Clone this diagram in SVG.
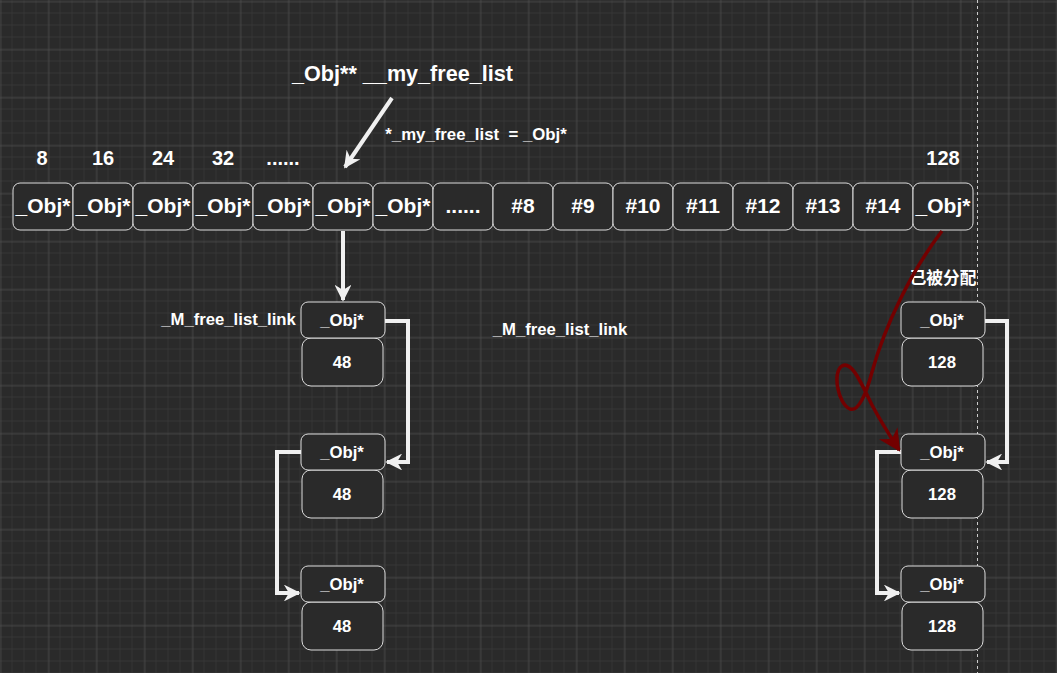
<svg xmlns="http://www.w3.org/2000/svg" width="1057" height="673" viewBox="0 0 1057 673">
<style>
text{font-family:"Liberation Sans",Arial,"Noto Sans CJK SC",sans-serif;font-weight:bold;fill:#ffffff;text-anchor:middle}
.cell{fill:#2a2a2a;stroke:#dddddd;stroke-width:1}
.ct{font-size:21px}
.nt{font-size:16.7px}
.lbl{font-size:20px}
.conn{fill:none;stroke:#f0f0f0;stroke-width:4}
</style>
<defs>
<pattern id="minor" width="12" height="12" patternUnits="userSpaceOnUse" patternTransform="translate(0.5,1.5)">
<path d="M12,0 V12 M0,12 H12" fill="none" stroke="#393939" stroke-width="1.3"/>
</pattern>
<pattern id="major" width="48" height="48" patternUnits="userSpaceOnUse" patternTransform="translate(0.5,1.5)">
<path d="M0,0 V48 M0,0 H48" fill="none" stroke="#555555" stroke-width="1"/>
</pattern>
<marker id="aw" viewBox="0 0 10 10" refX="9" refY="5" markerWidth="4.2" markerHeight="4.2" orient="auto" markerUnits="strokeWidth">
<path d="M0,0 L10,5 L0,10 L3,5 z" fill="#f0f0f0"/>
</marker>
<marker id="ar" viewBox="0 0 10 10" refX="9" refY="5" markerWidth="6.3" markerHeight="6.3" orient="auto" markerUnits="strokeWidth">
<path d="M0,0 L10,5 L0,10 L3,5 z" fill="#730000"/>
</marker>
</defs>
<rect width="1057" height="673" fill="#2a2a2a"/>
<rect width="1057" height="673" fill="url(#minor)"/>
<rect width="1057" height="673" fill="url(#major)"/>
<line x1="977.5" y1="0" x2="977.5" y2="673" stroke="#cccccc" stroke-width="1" stroke-dasharray="3,3"/>

<g id="title"><text x="402.5" y="81" style="font-size:21.6px">_Obj** __my_free_list</text></g>
<g id="deref-label"><text x="476" y="140" style="font-size:16.8px" xml:space="preserve">*_my_free_list  = _Obj*</text></g>

<g id="size-labels" class="lbl">
<text x="42" y="165">8</text>
<text x="103" y="165">16</text>
<text x="163" y="165">24</text>
<text x="223" y="165">32</text>
<text x="283" y="165">......</text>
<text x="943" y="165">128</text>
</g>

<g id="array">
<g id="c0"><rect class="cell" x="13" y="183" width="60" height="47" rx="7"/><text class="ct" x="43" y="213">_Obj*</text></g>
<g id="c1"><rect class="cell" x="73" y="183" width="60" height="47" rx="7"/><text class="ct" x="103" y="213">_Obj*</text></g>
<g id="c2"><rect class="cell" x="133" y="183" width="60" height="47" rx="7"/><text class="ct" x="163" y="213">_Obj*</text></g>
<g id="c3"><rect class="cell" x="193" y="183" width="60" height="47" rx="7"/><text class="ct" x="223" y="213">_Obj*</text></g>
<g id="c4"><rect class="cell" x="253" y="183" width="60" height="47" rx="7"/><text class="ct" x="283" y="213">_Obj*</text></g>
<g id="c5"><rect class="cell" x="313" y="183" width="60" height="47" rx="7"/><text class="ct" x="343" y="213">_Obj*</text></g>
<g id="c6"><rect class="cell" x="373" y="183" width="60" height="47" rx="7"/><text class="ct" x="403" y="213">_Obj*</text></g>
<g id="c7"><rect class="cell" x="433" y="183" width="60" height="47" rx="7"/><text class="ct" x="463" y="213">......</text></g>
<g id="c8"><rect class="cell" x="493" y="183" width="60" height="47" rx="7"/><text class="ct" x="523" y="213">#8</text></g>
<g id="c9"><rect class="cell" x="553" y="183" width="60" height="47" rx="7"/><text class="ct" x="583" y="213">#9</text></g>
<g id="c10"><rect class="cell" x="613" y="183" width="60" height="47" rx="7"/><text class="ct" x="643" y="213">#10</text></g>
<g id="c11"><rect class="cell" x="673" y="183" width="60" height="47" rx="7"/><text class="ct" x="703" y="213">#11</text></g>
<g id="c12"><rect class="cell" x="733" y="183" width="60" height="47" rx="7"/><text class="ct" x="763" y="213">#12</text></g>
<g id="c13"><rect class="cell" x="793" y="183" width="60" height="47" rx="7"/><text class="ct" x="823" y="213">#13</text></g>
<g id="c14"><rect class="cell" x="853" y="183" width="60" height="47" rx="7"/><text class="ct" x="883" y="213">#14</text></g>
<g id="c15"><rect class="cell" x="913" y="183" width="60" height="47" rx="7"/><text class="ct" x="943" y="213">_Obj*</text></g>
</g>

<g id="link-label-1"><text class="nt" x="228.5" y="325">_M_free_list_link</text></g>
<g id="link-label-2"><text class="nt" x="560" y="335">_M_free_list_link</text></g>
<g id="allocated-label"><text class="nt" x="943" y="284">已被分配</text></g>

<g id="n48a"><rect class="cell" x="302" y="338" width="81" height="48" rx="9"/><rect class="cell" x="301" y="302" width="84" height="36" rx="7"/><text class="nt" x="342" y="326">_Obj*</text><text class="nt" x="342" y="368">48</text></g>
<g id="n48b"><rect class="cell" x="302" y="470" width="81" height="48" rx="9"/><rect class="cell" x="301" y="434" width="84" height="36" rx="7"/><text class="nt" x="342" y="458">_Obj*</text><text class="nt" x="342" y="500">48</text></g>
<g id="n48c"><rect class="cell" x="302" y="602" width="81" height="48" rx="9"/><rect class="cell" x="301" y="566" width="84" height="36" rx="7"/><text class="nt" x="342" y="590">_Obj*</text><text class="nt" x="342" y="632">48</text></g>

<g id="n128a"><rect class="cell" x="902" y="338" width="81" height="48" rx="9"/><rect class="cell" x="901" y="302" width="84" height="36" rx="7"/><text class="nt" x="942" y="326">_Obj*</text><text class="nt" x="942" y="368">128</text></g>
<g id="n128b"><rect class="cell" x="902" y="470" width="81" height="48" rx="9"/><rect class="cell" x="901" y="434" width="84" height="36" rx="7"/><text class="nt" x="942" y="458">_Obj*</text><text class="nt" x="942" y="500">128</text></g>
<g id="n128c"><rect class="cell" x="902" y="602" width="81" height="48" rx="9"/><rect class="cell" x="901" y="566" width="84" height="36" rx="7"/><text class="nt" x="942" y="590">_Obj*</text><text class="nt" x="942" y="632">128</text></g>

<g id="connectors">
<path class="conn" d="M392,98 L345,167" marker-end="url(#aw)"/>
<path class="conn" d="M343,231 L343,300" marker-end="url(#aw)"/>
<path class="conn" d="M385,321 H408 V462 H387" marker-end="url(#aw)"/>
<path class="conn" d="M301,452 H277 V593 H299" marker-end="url(#aw)"/>
<path class="conn" d="M985,321 H1007 V462 H987" marker-end="url(#aw)"/>
<path class="conn" d="M901,452 H877 V593 H899" marker-end="url(#aw)"/>
<path d="M942,231 C912,270 885,325 872,372 C866,395 858,412 850,409 C838,404 832,372 842,366 C852,360 862,385 872,405 C880,420 888,433 899,450" fill="none" stroke="#730000" stroke-width="3.5" marker-end="url(#ar)"/>
</g>
</svg>
